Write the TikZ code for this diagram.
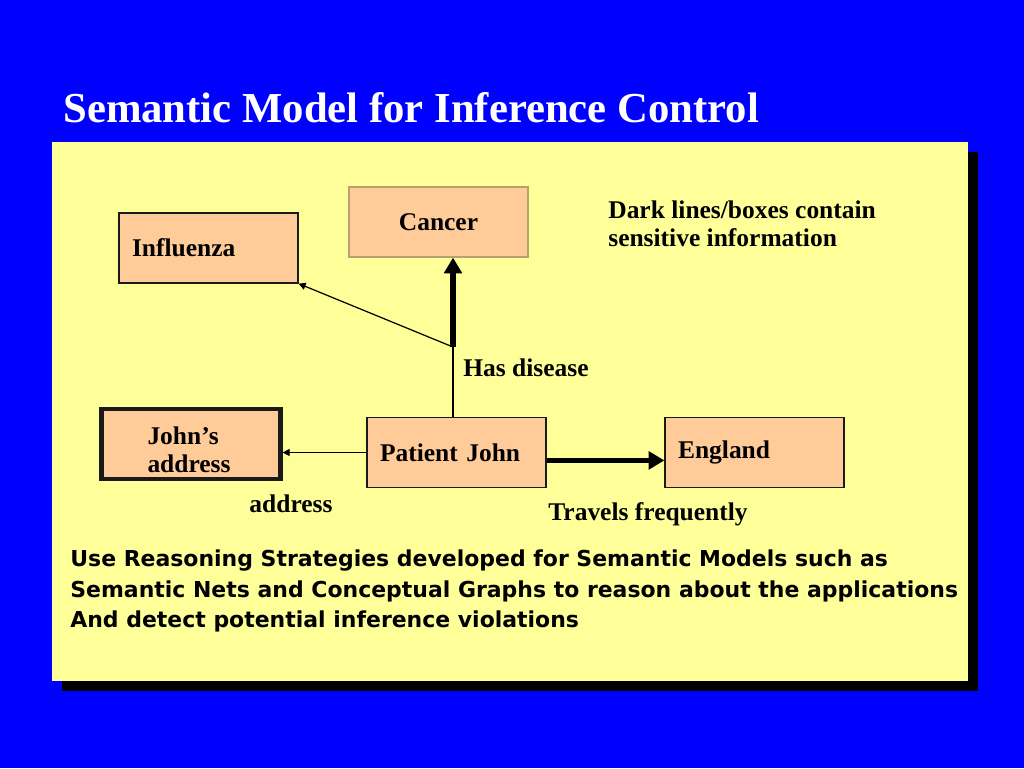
\documentclass[tikz,border=0pt]{standalone}
\usepackage{fontspec}
\setmainfont{Liberation Serif}
\newfontfamily\notefont{DejaVu Sans}
\usetikzlibrary{arrows.meta, positioning}
\definecolor{slide-bg}{HTML}{0000FF}
\definecolor{panel-fill}{HTML}{FFFF99}
\definecolor{box-fill}{HTML}{FFCC99}
\definecolor{box-border}{HTML}{1A1A1A}
\definecolor{soft-border}{HTML}{B8A070}
\tikzset{
  cbox/.style={
    rectangle, draw=box-border, fill=box-fill, line width=0.7pt,
    minimum width=3.58cm, minimum height=1.4cm, inner xsep=0.26cm,
    text width=3.06cm, align=left, font=\fontsize{14.5}{16}\selectfont\bfseries
  },
  cbox-dark/.style={cbox, line width=2.4pt},
  cbox-soft/.style={cbox, draw=soft-border, align=center},
  rel-label/.style={inner sep=0pt, font=\fontsize{14.5}{16}\selectfont\bfseries},
  thin-edge/.style={draw=black, line width=0.7pt, -{Triangle[length=4pt, width=4pt]}},
  thick-edge/.style={draw=black, line width=2.9pt, -{Triangle[length=9pt, width=10pt]}}
}

\begin{document}
\begin{tikzpicture}[x=0.02cm, y=-0.02cm]

  % ---- Slide and panel -------------------------------------------------------
  \useasboundingbox (0,0) rectangle (1024,768);
  \fill[slide-bg] (0,0) rectangle (1024,768);
  \fill[black] (62,152) rectangle (978,691);
  \fill[panel-fill] (52,142) rectangle (968,681);

  \node[anchor=west, inner sep=0pt, text=white,
        font=\fontsize{24.3}{28}\selectfont\bfseries] (title) at (63,108)
        {Semantic Model for Inference Control};

  % ---- Nodes ---------------------------------------------------------------
  \node[cbox]      (flu)    at (208.5,248)   {Influenza};
  \node[cbox-soft] (cancer) at (438.5,222)
        {\raisebox{-1.7pt}[\height][\depth]{\raisebox{3pt}{Cancer}}};
  \node[cbox-dark, inner xsep=0.92cm, text width=1.74cm]
                   (addr)   at (191,444)
        {\raisebox{-5.1pt}[\height][\depth]{\begin{tabular}{@{}l@{}}John's\\address\end{tabular}}};
  \node[cbox]      (pj)     at (456.5,452.5) {Patient John};
  \node[cbox]      (eng)    at (754.5,452.5) {England};

  \coordinate (hd) at (453,347);

  % ---- Edges (dark lines carry sensitive links) ----------------------------
  \draw[line width=0.7pt] (pj.north -| hd) -- (hd);
  \draw[thick-edge] (hd) -- (cancer.south -| hd);
  \draw[thin-edge]  (hd) -- (flu.south east);
  \draw[thin-edge]  (pj.west) -- (pj.west -| addr.east);
  \draw[thick-edge] ([yshift=-4.5pt]pj.east) -- ([yshift=-4.5pt]eng.west);

  % ---- Edge labels ---------------------------------------------------------
  \node[rel-label, anchor=west] (hd-label)  at (463,368) {Has disease};
  \node[rel-label]              (adr-label) at (291,504) {address};
  \node[rel-label]              (trv-label) at (648,514) {Travels frequently};

  % ---- Notes ---------------------------------------------------------------
  \node[rel-label, anchor=west, align=left] (key) at (608,224)
        {Dark lines/boxes contain\\sensitive information};
  \node[anchor=west, inner sep=0pt, align=left,
        font=\fontsize{12.5}{17.6}\selectfont\notefont\bfseries] (note) at (70,591)
        {Use Reasoning Strategies developed for Semantic Models such as\\
         Semantic Nets and Conceptual Graphs to reason about the applications\\
         And detect potential inference violations};

\end{tikzpicture}
\end{document}
